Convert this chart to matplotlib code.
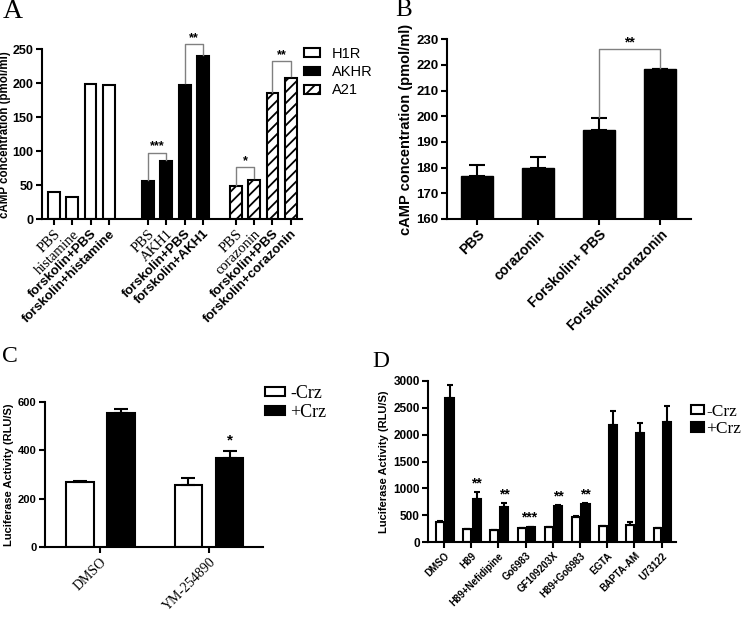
import numpy as np
import matplotlib.pyplot as plt

plt.rcParams['font.family'] = 'Liberation Sans'
plt.rcParams['hatch.linewidth'] = 1.3

SANS = 'Liberation Sans'
SERIF = 'Liberation Serif'

# panel A: cAMP per receptor
a_labels = ['PBS', 'histamine', 'forskolin+PBS', 'forskolin+histamine',
            'PBS', 'AKH1', 'forskolin+PBS', 'forskolin+AKH1',
            'PBS', 'corazonin', 'forskolin+PBS', 'forskolin+corazonin']
h1r_vals = [40, 33, 199, 198]
akhr_vals = [56, 85, 198, 240]
a21_vals = [49, 58, 185, 208]

# panel B
b_labels = ['PBS', 'corazonin', 'Forskolin+ PBS', 'Forskolin+corazonin']
b_vals = [176.8, 179.9, 194.8, 218.4]
b_err = [4.2, 4.3, 4.4, 0.2]

# panel C
c_labels = ['DMSO', 'YM-254890']
c_minus = [267, 256]
c_minus_err = [6, 29]
c_plus = [553, 368]
c_plus_err = [15, 28]

# panel D
d_labels = ['DMSO', 'H89', 'H89+Nefidipine', 'Go6983', 'GF109203X',
            'H89+Go6983', 'EGTA', 'BAPTA-AM', 'U73122']
d_minus = [372, 248, 236, 267, 291, 465, 298, 322, 267]
d_minus_err = [15, 0, 0, 0, 0, 15, 0, 62, 0]
d_plus = [2670, 800, 651, 291, 676, 713, 2182, 2027, 2226]
d_plus_err = [245, 125, 75, 0, 10, 10, 260, 186, 297]
d_stars = ['', '**', '**', '***', '**', '**', '', '', '']


def style(ax, fs):
    for s in ['top', 'right']:
        ax.spines[s].set_visible(False)
    for s in ['left', 'bottom']:
        ax.spines[s].set_linewidth(1.5)
    ax.tick_params(width=1.5, length=4, labelsize=fs, pad=2)
    for t in ax.get_yticklabels():
        t.set_fontweight('bold')


def upper_err(ax, x, y, e, cap):
    e = np.asarray(e)
    ax.errorbar(x, y, yerr=[np.zeros_like(e), e], fmt='none', ecolor='black',
                elinewidth=1.5, capsize=cap, capthick=1.5)


def bracket(ax, x1, x2, y1, y2, top, txt, fs):
    ax.plot([x1, x1, x2, x2], [y1, top, top, y2], color='gray', lw=1, clip_on=False)
    ax.text((x1 + x2) / 2, top, txt, ha='center', va='bottom', fontsize=fs, fontweight='bold')


fig = plt.figure(figsize=(7.45, 6.23), dpi=100)

# ---------- A
ax = fig.add_axes([0.056, 0.648, 0.349, 0.273])
pos_h = np.array([0, 1, 2, 3])
pos_k = pos_h + 5.15
pos_a = pos_h + 9.95
w = 0.65
kw = dict(width=w, edgecolor='black', linewidth=1.5)
ax.bar(pos_h, h1r_vals, color='white', label='H1R', **kw)
ax.bar(pos_k, akhr_vals, color='black', label='AKHR', **kw)
ax.bar(pos_a, a21_vals, color='white', hatch='///', label='A21', **kw)
ax.set_xlim(-0.67, 13.55)
ax.set_ylim(0, 250)
ax.set_yticks([0, 50, 100, 150, 200, 250])
allpos = np.concatenate([pos_h, pos_k, pos_a])
ax.set_xticks(allpos)
ax.set_xticklabels(a_labels, rotation=45, ha='right', rotation_mode='anchor')
style(ax, 9)
for t in ax.get_xticklabels():
    if t.get_text().startswith('forskolin'):
        t.set_fontfamily(SANS)
        t.set_fontweight('bold')
        t.set_fontsize(9.5)
    else:
        t.set_fontfamily(SERIF)
        t.set_fontsize(10.5)
ax.set_ylabel('cAMP concentration (pmol/ml)', fontsize=8.3, fontweight='bold', labelpad=1)
bracket(ax, pos_k[0], pos_k[1], 58, 87, 98, '***', 9)
bracket(ax, pos_k[2], pos_k[3], 200, 242, 257, '**', 9)
bracket(ax, pos_a[0], pos_a[1], 51, 60, 77, '*', 9)
bracket(ax, pos_a[2], pos_a[3], 187, 210, 232, '**', 9)
ax.legend(loc='upper left', bbox_to_anchor=(0.408, 0.925), bbox_transform=fig.transFigure,
          frameon=False, fontsize=10.5, borderpad=0, borderaxespad=0,
          handlelength=1.1, handleheight=0.55, handletextpad=0.8, labelspacing=0.3)

# ---------- B
ax = fig.add_axes([0.5996, 0.6485, 0.3275, 0.2884])
xb = np.arange(len(b_vals))
ax.bar(xb, np.array(b_vals) - 160, bottom=160, width=0.53, color='black', edgecolor='black')
upper_err(ax, xb, b_vals, b_err, 6)
ax.set_xlim(-0.5, 3.5)
ax.set_ylim(160, 230)
ax.set_yticks(range(160, 231, 10))
ax.set_xticks(xb)
ax.set_xticklabels(b_labels, rotation=45, ha='right', rotation_mode='anchor',
                   fontweight='bold')
style(ax, 9.5)
for t in ax.get_xticklabels():
    t.set_fontsize(10)
ax.set_ylabel('cAMP concentration (pmol/ml)', fontsize=10.5, fontweight='bold', labelpad=2)
bracket(ax, 2, 3, 199.6, 218.8, 226.2, '**', 10)

# ---------- C
ax = fig.add_axes([0.0604, 0.122, 0.293, 0.2332])
xc = np.arange(len(c_labels))
ax.bar(xc - 0.19, c_minus, width=0.255, color='white', edgecolor='black', linewidth=1.5, label='-Crz')
ax.bar(xc + 0.19, c_plus, width=0.255, color='black', edgecolor='black', linewidth=1.5, label='+Crz')
upper_err(ax, xc - 0.19, c_minus, c_minus_err, 5)
upper_err(ax, xc + 0.19, c_plus, c_plus_err, 5)
ax.text(1.19, 410, '*', ha='center', va='bottom', fontsize=11, fontweight='bold')
ax.set_xlim(-0.51, 1.5)
ax.set_ylim(0, 600)
ax.set_yticks([0, 200, 400, 600])
ax.set_xticks(xc)
ax.set_xticklabels(c_labels, rotation=45, ha='right', rotation_mode='anchor', fontfamily=SERIF)
style(ax, 8)
for t in ax.get_xticklabels():
    t.set_fontsize(10)
ax.set_ylabel('Luciferase Activity (RLU/S)', fontsize=8, fontweight='bold', labelpad=3)
ax.legend(loc='upper left', bbox_to_anchor=(0.356, 0.382), bbox_transform=fig.transFigure,
          frameon=False, prop={'family': SERIF, 'size': 13}, borderpad=0, borderaxespad=0,
          handlelength=1.1, handleheight=0.45, handletextpad=0.3, labelspacing=0.1)

# ---------- D
ax = fig.add_axes([0.5749, 0.1295, 0.3325, 0.2594])
xd = np.arange(len(d_labels))
ax.bar(xd - 0.15, d_minus, width=0.29, color='white', edgecolor='black', linewidth=1.5, label='-Crz')
ax.bar(xd + 0.2, d_plus, width=0.3, color='black', edgecolor='black', linewidth=1.5, label='+Crz')
upper_err(ax, xd - 0.15, d_minus, d_minus_err, 2.5)
upper_err(ax, xd + 0.2, d_plus, d_plus_err, 2.5)
for i, s in enumerate(d_stars):
    if s:
        top = d_plus[i] + d_plus_err[i]
        ax.text(i + (0.12 if s == '***' else 0.2), top + 40, s, ha='center', va='bottom',
                fontsize=10, fontweight='bold')
ax.set_xlim(-0.58, 8.53)
ax.set_ylim(0, 3000)
ax.set_yticks(range(0, 3001, 500))
ax.set_xticks(xd)
ax.set_xticklabels(d_labels, rotation=45, ha='right', rotation_mode='anchor', fontweight='bold')
style(ax, 8.5)
for t in ax.get_xticklabels():
    t.set_fontsize(7)
ax.set_ylabel('Luciferase Activity (RLU/S)', fontsize=8, fontweight='bold', labelpad=3)
ax.legend(loc='upper left', bbox_to_anchor=(0.928, 0.352), bbox_transform=fig.transFigure,
          frameon=False, prop={'family': SERIF, 'size': 12.5}, borderpad=0, borderaxespad=0,
          handlelength=0.75, handleheight=0.5, handletextpad=0.1, labelspacing=0.1)

# panel letters
for lab, x, y, fs in [('A', 0.003, 0.982, 20), ('B', 0.53, 0.984, 18),
                      ('C', 0.003, 0.427, 17), ('D', 0.5, 0.42, 17)]:
    fig.text(x, y, lab, fontsize=fs, fontfamily=SERIF, va='center')

fig.savefig('out.png', dpi=100)
